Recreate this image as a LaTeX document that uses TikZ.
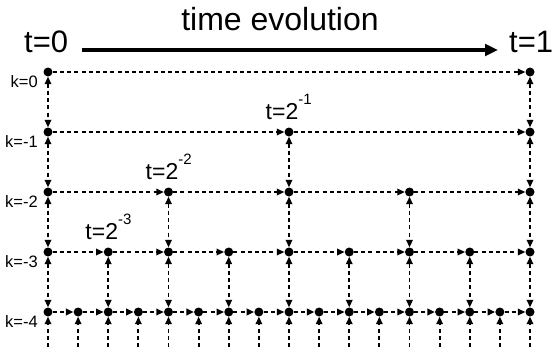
\documentclass[tikz,border=0pt]{standalone}
\usepackage{fontspec}
\setmainfont{Liberation Sans}
\usetikzlibrary{arrows.meta}
\begin{document}
\begin{tikzpicture}[x=1bp,y=-1bp,
  dot/.style={circle,fill=black,inner sep=0pt,minimum size=9bp},
  link/.style={line width=1.9bp,dash pattern=on 4bp off 3.2bp,-{Triangle[length=7.5bp,width=6.5bp]}},
  both/.style={line width=1.9bp,dash pattern=on 4bp off 3.2bp,{Triangle[length=7.5bp,width=6.5bp]}-{Triangle[length=7.5bp,width=6.5bp]}},
  klabel/.style={anchor=base east,inner sep=0pt,font=\fontsize{16.5bp}{18bp}\selectfont},
  tlabel/.style={anchor=base west,inner sep=0pt,font=\fontsize{23bp}{26bp}\selectfont},
  big/.style={inner sep=0pt,font=\fontsize{31bp}{36bp}\selectfont},
  bigarrow/.style={line width=3.8bp,-{Triangle[length=13bp,width=11.5bp]}},
]
\useasboundingbox (0,0) rectangle (555,352);

% title and time axis
\node[inner sep=0pt,anchor=base,font=\fontsize{32bp}{36bp}\selectfont] (title) at (280,30) {time evolution};
\node[big,anchor=base west] (t0) at (24,52) {t=0};
\node[big,anchor=base west] (t1) at (509,52) {t=1};
\draw[bigarrow] ([xshift=14bp,yshift=2bp]t0.base east) -- ([xshift=-11bp,yshift=2bp]t1.base west);

% nodes
\foreach \L/\s in {0/16,1/8,2/4,3/2,4/1} {
  \foreach \i in {0,...,16} {
    \pgfmathtruncatemacro\r{mod(\i,\s)}
    \ifnum\r=0
      \node[dot] (n\L-\i) at ({48+30.125*\i},{72+60*\L}) {};
    \fi
  }
}

% horizontal arrows
\foreach \L/\s in {0/16,1/8,2/4,3/2,4/1} {
  \foreach \i in {0,...,15} {
    \pgfmathtruncatemacro\r{mod(\i,\s)}
    \ifnum\r=0
      \pgfmathtruncatemacro\j{\i+\s}
      \draw[link] (n\L-\i) -- (n\L-\j);
    \fi
  }
}

% vertical links
\foreach \L/\s in {0/16,1/8,2/4,3/2} {
  \foreach \i in {0,...,16} {
    \pgfmathtruncatemacro\r{mod(\i,\s)}
    \ifnum\r=0
      \pgfmathtruncatemacro\M{\L+1}
      \draw[both] (n\L-\i) -- (n\M-\i);
    \fi
  }
}

% bottom stubs
\foreach \i in {0,...,16} {
  \coordinate (b\i) at ({48+30.125*\i},347);
  \draw[link] (b\i) -- (n4-\i);
}

% level labels
\foreach \L/\t in {0/0,1/-1,2/-2,3/-3,4/-4} {
  \node[klabel] (k\L) at (38,{87+60*\L}) {k=\t};
}

% time labels
\node[tlabel] (l1) at (265.5,119) {t=2\raisebox{15bp}{\fontsize{15bp}{17bp}\selectfont -1}};
\node[tlabel] (l2) at (145.5,179) {t=2\raisebox{15bp}{\fontsize{15bp}{17bp}\selectfont -2}};
\node[tlabel] (l3) at (85.25,239) {t=2\raisebox{15bp}{\fontsize{15bp}{17bp}\selectfont -3}};
\end{tikzpicture}
\end{document}
